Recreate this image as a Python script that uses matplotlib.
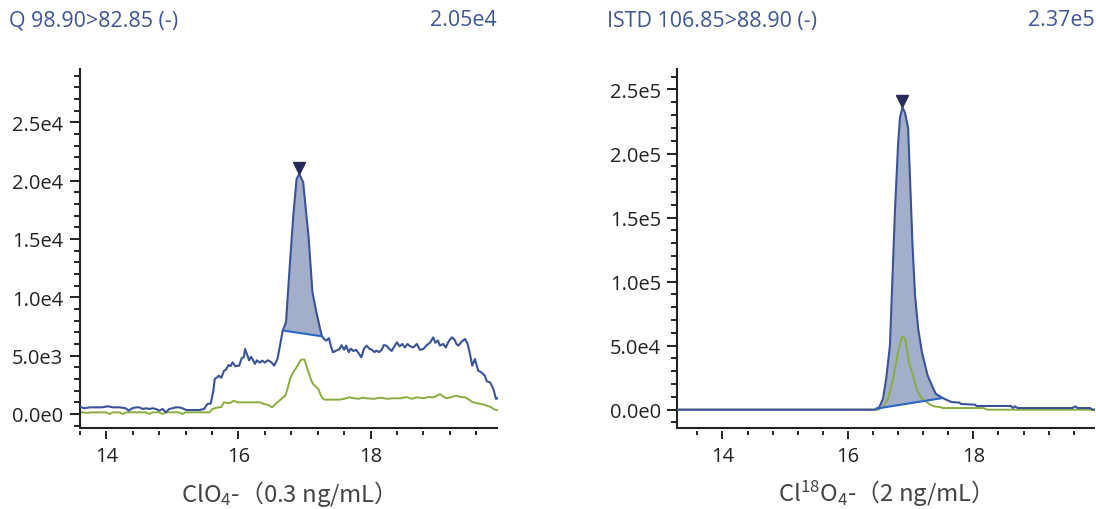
import numpy as np
import matplotlib
matplotlib.use("Agg")
import matplotlib.pyplot as plt
from matplotlib.ticker import FixedLocator

plt.rcParams['font.family'] = ['Open Sans', 'DejaVu Sans']
plt.rcParams['mathtext.fontset'] = 'custom'
plt.rcParams['mathtext.rm'] = 'Noto Sans CJK SC'
plt.rcParams['mathtext.default'] = 'regular'

# ---- data ----
# left panel: Q 98.90>82.85 (-)
q_time = [13.60, 13.66, 13.75, 13.84, 13.93, 14.02, 14.10, 14.20, 14.29, 14.34, 14.39, 14.45,
          14.50, 14.55, 14.60, 14.65, 14.70, 14.75, 14.80, 14.85, 14.90, 14.95, 15.00, 15.05,
          15.10, 15.15, 15.21, 15.30, 15.41, 15.48, 15.53, 15.58, 15.62, 15.64, 15.68, 15.70,
          15.74, 15.78, 15.81, 15.85, 15.88, 15.91, 15.95, 16.01, 16.05, 16.08, 16.10, 16.13,
          16.16, 16.19, 16.21, 16.25, 16.28, 16.32, 16.36, 16.40, 16.44, 16.48, 16.52, 16.54,
          16.59, 16.64, 16.67, 16.72, 16.78, 16.83, 16.88, 16.92, 16.98, 17.02, 17.06, 17.12,
          17.18, 17.26, 17.30, 17.33, 17.37, 17.40, 17.43, 17.47, 17.53, 17.56, 17.60, 17.63,
          17.67, 17.70, 17.74, 17.78, 17.82, 17.86, 17.90, 17.94, 17.98, 18.02, 18.06, 18.09,
          18.13, 18.17, 18.20, 18.24, 18.28, 18.32, 18.36, 18.40, 18.44, 18.48, 18.52, 18.56,
          18.60, 18.65, 18.70, 18.75, 18.80, 18.85, 18.90, 18.95, 18.98, 19.02, 19.05, 19.10,
          19.14, 19.18, 19.23, 19.27, 19.30, 19.33, 19.38, 19.43, 19.47, 19.50, 19.54, 19.58,
          19.63, 19.67, 19.73, 19.76, 19.81, 19.86, 19.90, 19.95]
q_blue = [630, 490, 570, 570, 570, 660, 570, 570, 490, 290, 490, 570,
          570, 430, 490, 430, 490, 430, 290, 430, 140, 430, 490, 570,
          570, 490, 340, 340, 340, 430, 860, 900, 2000, 3000, 3150, 3290,
          3100, 3700, 3800, 4200, 4100, 4430, 4100, 4140, 4800, 4860, 5570, 5100,
          4600, 4900, 4710, 4300, 4600, 4400, 4570, 4400, 4600, 4500, 4300, 4140,
          4700, 6200, 7140, 7860, 13000, 17000, 20140, 20570, 19860, 17500, 15290, 10430,
          8710, 6710, 6400, 6290, 6500, 5800, 5290, 5400, 5570, 5900, 5500, 5860,
          5300, 5600, 5400, 5500, 5200, 4860, 5600, 5860, 5600, 5500, 5300, 5430,
          5300, 5500, 5900, 5860, 5600, 5400, 5800, 6140, 5800, 6000, 5700, 6000,
          5800, 5710, 6000, 5500, 5570, 5900, 6100, 6570, 6100, 6300, 5860, 6000,
          5700, 6200, 6570, 6400, 6000, 5860, 6200, 6430, 6000, 5290, 4140, 4710,
          3710, 3600, 3290, 2800, 2710, 2140, 1290, 1430]

q_green_time = [13.60, 13.65, 13.70, 13.80, 13.90, 14.00, 14.05, 14.10, 14.20, 14.25, 14.30, 14.40,
                14.50, 14.60, 14.65, 14.70, 14.80, 14.85, 14.90, 15.00, 15.10, 15.15, 15.20, 15.30,
                15.40, 15.50, 15.56, 15.60, 15.64, 15.70, 15.74, 15.78, 15.83, 15.87, 15.93, 15.98,
                16.08, 16.20, 16.33, 16.38, 16.44, 16.51, 16.55, 16.59, 16.65, 16.71, 16.75, 16.78,
                16.83, 16.88, 16.92, 16.95, 17.00, 17.03, 17.06, 17.10, 17.13, 17.18, 17.21, 17.24,
                17.26, 17.30, 17.36, 17.45, 17.53, 17.60, 17.68, 17.75, 17.82, 17.88, 17.94, 18.05,
                18.15, 18.25, 18.35, 18.45, 18.55, 18.62, 18.70, 18.80, 18.88, 18.95, 19.00, 19.05,
                19.10, 19.15, 19.22, 19.30, 19.36, 19.43, 19.50, 19.55, 19.60, 19.66, 19.72, 19.76,
                19.82, 19.86, 19.90, 19.95]
q_green = [140, 140, 100, 140, 140, 140, 0, 140, 140, 0, 140, 140,
           140, 140, 0, 140, 140, 0, 140, 140, 140, 0, 140, 140,
           140, 140, 140, 400, 490, 570, 600, 1000, 950, 940, 1140, 1000,
           1000, 1000, 1000, 860, 800, 570, 800, 1000, 1300, 1570, 2300, 3000,
           3600, 4000, 4400, 4660, 4660, 4100, 3570, 2900, 2570, 2300, 2140, 1700,
           1430, 1230, 1230, 1230, 1230, 1300, 1430, 1350, 1300, 1400, 1340, 1300,
           1400, 1300, 1350, 1340, 1450, 1300, 1430, 1350, 1450, 1430, 1550, 1710,
           1500, 1340, 1450, 1570, 1450, 1430, 1200, 1000, 950, 860, 800, 710,
           600, 430, 350, 290]
q_base = [(16.69, 7140), (17.26, 6660)]   # integration baseline end points
q_apex = (16.92, 21100)
q_title, q_height = "Q 98.90>82.85 (-)", "2.05e4"
q_label = r"ClO$_4$-（0.3 ng/mL）"
q_yticks = [0, 5000, 10000, 15000, 20000, 25000]
q_yticklabels = ["0.0e0", "5.0e3", "1.0e4", "1.5e4", "2.0e4", "2.5e4"]

# right panel: ISTD 106.85>88.90 (-)
s_time = [13.27, 16.42, 16.47, 16.50, 16.56, 16.61, 16.67, 16.70, 16.75, 16.80, 16.83, 16.87,
          16.91, 16.96, 16.99, 17.03, 17.07, 17.12, 17.18, 17.27, 17.35, 17.40, 17.51, 17.59,
          17.65, 17.78, 17.80, 18.03, 18.05, 18.60, 18.63, 18.66, 18.71, 19.58, 19.63, 19.66,
          19.86, 19.90, 19.95]
s_blue = [0, 0, 1000, 2000, 8600, 24000, 50000, 89500, 155000, 207000, 228000, 236000,
          232000, 220000, 181000, 128700, 89500, 63400, 45000, 27000, 17700, 12500, 9100, 7300,
          6000, 5500, 4500, 3900, 2900, 2900, 1300, 2600, 1300, 1300, 2600, 1300,
          1300, 0, 0]
s_green_time = [13.27, 16.48, 16.52, 16.56, 16.64, 16.72, 16.80, 16.85, 16.87, 16.90, 16.92, 16.97,
                17.05, 17.10, 17.18, 17.29, 17.37, 17.48, 17.51, 18.16, 18.22, 19.95]
s_green = [0, 0, 1000, 2000, 8600, 24000, 45000, 55000, 57000, 56000, 54300, 37300,
           24300, 15100, 8600, 4700, 2600, 2000, 1300, 1300, 0, 0]
s_base = [(16.45, 800), (17.51, 9100)]
s_apex = (16.87, 241000)
s_title, s_height = "ISTD 106.85>88.90 (-)", "2.37e5"
s_label = r"Cl$^{18}$O$_4$-（2 ng/mL）"
s_yticks = [0, 50000, 100000, 150000, 200000, 250000]
s_yticklabels = ["0.0e0", "5.0e4", "1.0e5", "1.5e5", "2.0e5", "2.5e5"]

BLUE = "#3a5398"
GREEN = "#8aad3f"
FILL = "#a3aeca"
BASE = "#2a68c2"
NAVY = "#262b58"
TITLE = "#3d5597"
DARK = "#222222"

W, H = 1096, 510
fig = plt.figure(figsize=(W / 100, H / 100), dpi=100)


def panel(rect, t, y, gt, g, base, apex, xlim, ylim, yticks, yticklabels, yminor, ypad):
    ax = fig.add_axes(rect)
    t = np.array(t); y = np.array(y)
    (x0, b0), (x1, b1) = base
    m = (t > x0) & (t < x1)
    xs = np.concatenate([[x0], t[m], [x1]])
    ys = np.interp(xs, t, y)
    bl = np.interp(xs, [x0, x1], [b0, b1])
    ax.fill_between(xs, bl, ys, color=FILL, lw=0, zorder=1)
    ax.plot(gt, g, color=GREEN, lw=1.4, zorder=2)
    ax.plot(t, y, color=BLUE, lw=1.5, zorder=3)
    ax.plot([x0, x1], [b0, b1], color=BASE, lw=1.5, zorder=4)
    ax.plot([apex[0]], [apex[1]], marker="v", color=NAVY, ms=8, zorder=5, clip_on=False)

    ax.set_xlim(*xlim)
    ax.set_ylim(*ylim)
    ax.set_xticks([14, 16, 18])
    ax.set_xticklabels(["14", "16", "18"])
    ax.xaxis.set_minor_locator(FixedLocator(np.arange(13.6, 19.7, 0.4)))
    ax.set_yticks(yticks)
    ax.set_yticklabels(yticklabels)
    ax.yaxis.set_minor_locator(FixedLocator(yminor))

    for s in ("top", "right"):
        ax.spines[s].set_visible(False)
    ax.spines["left"].set_linewidth(1.5)
    ax.spines["left"].set_color(DARK)
    ax.spines["bottom"].set_position(("outward", 2.2))
    ax.spines["bottom"].set_color("none")
    ax.plot([0, 1], [0, 0], transform=ax.transAxes, color=DARK, lw=1.5, clip_on=False,
            solid_capstyle="butt")

    ax.tick_params(axis="y", which="major", length=7, width=1.4, color=DARK,
                   labelsize=14.5, labelcolor=DARK, pad=ypad)
    ax.tick_params(axis="y", which="minor", length=4.3, width=1.4, color=DARK)
    ax.tick_params(axis="x", which="major", length=5.8, width=1.4, color=DARK,
                   labelsize=14.5, labelcolor=DARK, pad=5)
    ax.tick_params(axis="x", which="minor", length=2.9, width=1.4, color=DARK)
    return ax


bottom = 1 - 429 / H
top = 1 - 70 / H

panel([80 / W, bottom, (498 - 80) / W, top - bottom], q_time, q_blue, q_green_time, q_green,
      q_base, q_apex, (13.6, 19.93), (-1200, 29560), q_yticks, q_yticklabels,
      np.arange(-1000, 29001, 1000), 5)
panel([677 / W, bottom, (1095 - 677) / W, top - bottom], s_time, s_blue, s_green_time, s_green,
      s_base, s_apex, (13.275, 19.94), (-14300, 266000), s_yticks, s_yticklabels,
      np.arange(-10000, 260001, 10000), 4.5)

ty = 1 - 21 / H
fig.text(9 / W, ty, q_title, color=TITLE, fontsize=15.4, ha="left", va="center")
fig.text(497 / W, ty, q_height, color=TITLE, fontsize=15.4, ha="right", va="center")
fig.text(607 / W, ty, s_title, color=TITLE, fontsize=15.4, ha="left", va="center")
fig.text(1095 / W, ty, s_height, color=TITLE, fontsize=15.4, ha="right", va="center")

ly = 1 - 502 / H
fig.text(282 / W, ly, q_label, color="#444444", fontsize=17.2, ha="center", va="baseline",
         family="Noto Sans CJK SC")
fig.text(879 / W, ly, s_label, color="#444444", fontsize=17.2, ha="center", va="baseline",
         family="Noto Sans CJK SC")

fig.savefig("out.png", dpi=100)
